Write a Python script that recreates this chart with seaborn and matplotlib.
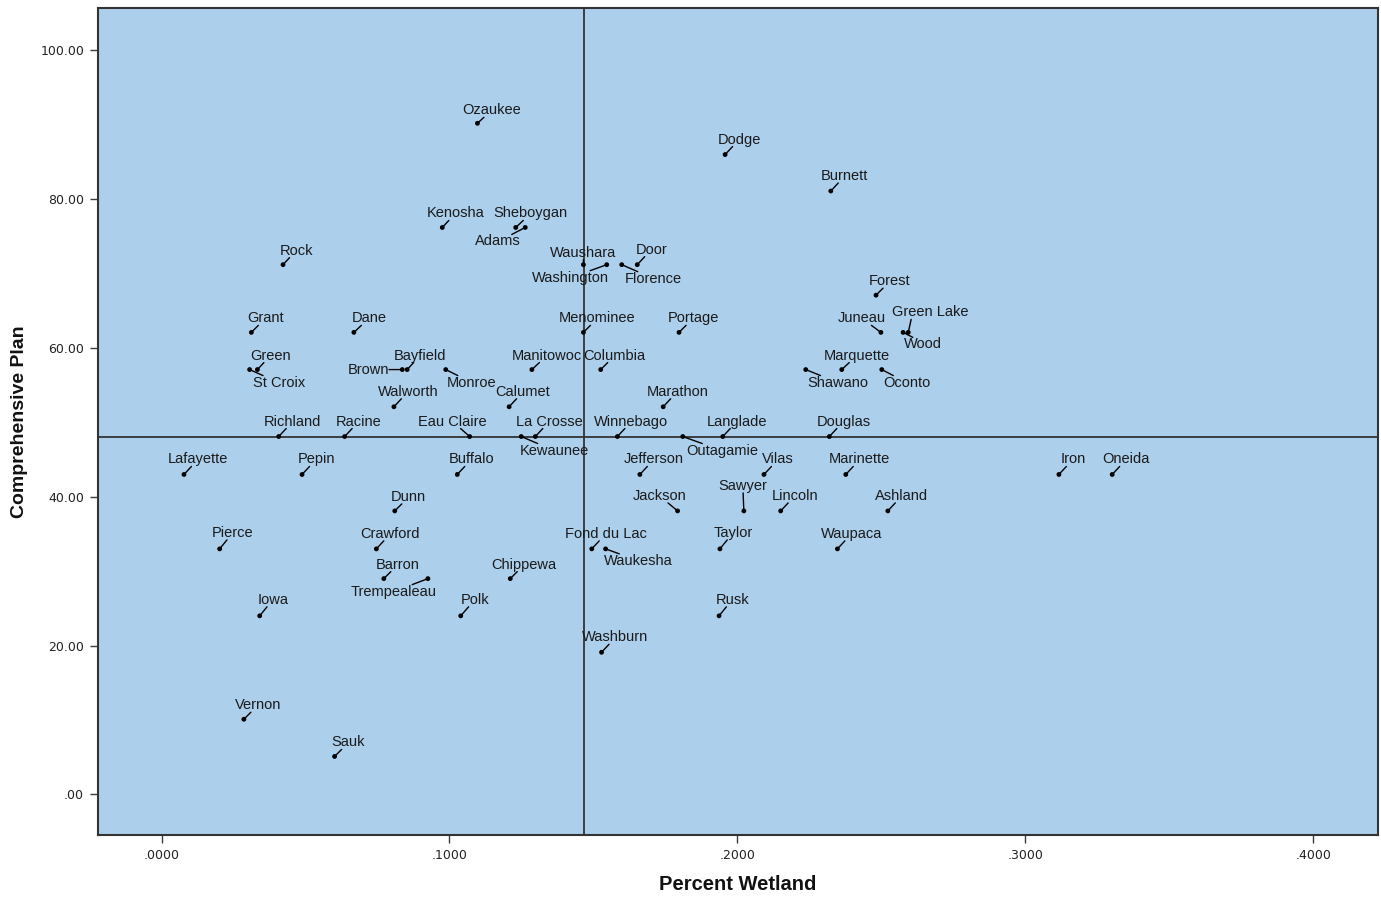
import matplotlib
matplotlib.use("Agg")
import matplotlib.pyplot as plt
import seaborn as sns
import pandas as pd
from matplotlib.ticker import FuncFormatter, FixedLocator

# ---------------- data ----------------
counties = [
    "Ozaukee", "Dodge", "Burnett", "Kenosha", "Sheboygan", "Adams", "Rock",
    "Waushara", "Washington", "Florence", "Door", "Forest",
    "Grant", "Dane", "Menominee", "Portage", "Juneau", "Green Lake", "Wood",
    "Green", "St Croix", "Brown", "Bayfield", "Monroe", "Manitowoc", "Columbia",
    "Shawano", "Marquette", "Oconto",
    "Walworth", "Calumet", "Marathon",
    "Richland", "Racine", "Eau Claire", "Kewaunee", "La Crosse", "Winnebago",
    "Outagamie", "Langlade", "Douglas",
    "Lafayette", "Pepin", "Buffalo", "Jefferson", "Vilas", "Marinette", "Iron", "Oneida",
    "Dunn", "Jackson", "Sawyer", "Lincoln", "Ashland",
    "Pierce", "Crawford", "Fond du Lac", "Waukesha", "Taylor", "Waupaca",
    "Barron", "Trempealeau", "Chippewa",
    "Iowa", "Polk", "Rusk",
    "Washburn", "Vernon", "Sauk",
]

percent_wetland = [
    0.1097, 0.1957, 0.2324, 0.0975, 0.1230, 0.1263, 0.0422,
    0.1465, 0.1546, 0.1598, 0.1652, 0.2481,
    0.0312, 0.0668, 0.1465, 0.1797, 0.2498, 0.2593, 0.2575,
    0.0333, 0.0306, 0.0836, 0.0853, 0.0987, 0.1286, 0.1525,
    0.2237, 0.2362, 0.2501,
    0.0807, 0.1207, 0.1742,
    0.0407, 0.0636, 0.1070, 0.1249, 0.1298, 0.1583,
    0.1810, 0.1949, 0.2319,
    0.0078, 0.0488, 0.1027, 0.1661, 0.2092, 0.2376, 0.3116, 0.3301,
    0.0810, 0.1792, 0.2022, 0.2150, 0.2522,
    0.0202, 0.0746, 0.1494, 0.1542, 0.1939, 0.2347,
    0.0772, 0.0925, 0.1211,
    0.0341, 0.1039, 0.1936,
    0.1528, 0.0286, 0.0601,
]

comprehensive_plan = [
    90.2, 86.0, 81.1, 76.2, 76.2, 76.2, 71.2,
    71.2, 71.2, 71.2, 71.2, 67.1,
    62.1, 62.1, 62.1, 62.1, 62.1, 62.1, 62.1,
    57.1, 57.1, 57.1, 57.1, 57.1, 57.1, 57.1,
    57.1, 57.1, 57.1,
    52.1, 52.1, 52.1,
    48.1, 48.1, 48.1, 48.1, 48.1, 48.1,
    48.1, 48.1, 48.1,
    43.0, 43.0, 43.0, 43.0, 43.0, 43.0, 43.0, 43.0,
    38.1, 38.1, 38.1, 38.1, 38.1,
    33.0, 33.0, 33.0, 33.0, 33.0, 33.0,
    29.0, 29.0, 29.0,
    24.0, 24.0, 24.0,
    19.1, 10.1, 5.1,
]

x_reference = 0.1466
y_reference = 48.1

x_ticks = [0.0, 0.1, 0.2, 0.3, 0.4]
y_ticks = [0, 20, 40, 60, 80, 100]

# ---------------- layout (label offsets in pixels) ----------------
default_offset = (14, 15)
label_offsets = {
    "Ozaukee": (14, 13), "Kenosha": (13, 14), "Sheboygan": (15, 14),
    "Adams": (-27, -14), "Rock": (13, 14), "Waushara": (0, 12),
    "Washington": (-36, -13), "Florence": (32, -14), "Forest": (14, 14),
    "Grant": (14, 14), "Dane": (15, 14), "Menominee": (14, 14),
    "Portage": (14, 14), "Juneau": (-19, 14), "Green Lake": (22, 20),
    "Wood": (20, -12), "Green": (13, 14), "St Croix": (29, -13),
    "Brown": (-34, 0), "Bayfield": (13, 14), "Monroe": (26, -13),
    "Manitowoc": (15, 14), "Columbia": (14, 14), "Shawano": (32, -13),
    "Marquette": (15, 14), "Oconto": (25, -13), "Eau Claire": (-17, 15),
    "Kewaunee": (33, -14), "Outagamie": (39, -14), "Jackson": (-18, 15),
    "Sawyer": (-1, 25), "Waukesha": (33, -12), "Trempealeau": (-34, -13),
    "Dunn": (14, 14), "Barron": (14, 14), "Chippewa": (14, 14),
    "Vernon": (14, 14), "Sauk": (14, 14), "Pierce": (13, 16),
    "Taylor": (13, 16), "Iowa": (13, 16), "Polk": (14, 16), "Rusk": (13, 16),
}
# where the leader line leaves the label box (fractions of the box)
leader_start = {"Green Lake": (0.25, 0.0), "Wood": (0.23, 1.0)}

df = pd.DataFrame({"County": counties, "Wetland": percent_wetland,
                   "Plan": comprehensive_plan})

W, H = 1381, 897
fig = plt.figure(figsize=(W / 100, H / 100), dpi=100)
ax = fig.add_axes([98 / W, 1 - 835 / H, (1378 - 98) / W, (835 - 8) / H])
ax.set_facecolor("#accfec")

sns.scatterplot(data=df, x="Wetland", y="Plan", ax=ax, color="black",
                s=12, edgecolor="none", zorder=4, legend=False)

ax.axvline(x_reference, color="#333333", lw=1.3, zorder=2)
ax.axhline(y_reference, color="#333333", lw=1.3, zorder=2)

label_font = ["Liberation Sans", "DejaVu Sans"]
for name, xv, yv in zip(counties, percent_wetland, comprehensive_plan):
    dx, dy = label_offsets.get(name, default_offset)
    arrow = dict(arrowstyle="-", color="black", lw=1.0, shrinkA=0, shrinkB=0)
    if name in leader_start:
        arrow["relpos"] = leader_start[name]
    ax.annotate(name, xy=(xv, yv), xytext=(dx, dy), textcoords="offset pixels",
                ha="center", va="center", fontsize=10.5, family=label_font,
                color="#1a1a1a", zorder=5,
                bbox=dict(boxstyle="square,pad=0", fc="none", ec="none"),
                arrowprops=arrow)

ax.set_xlim(-0.02205, 0.4224)
ax.set_ylim(-5.46, 105.7)
ax.xaxis.set_major_locator(FixedLocator(x_ticks))
ax.yaxis.set_major_locator(FixedLocator(y_ticks))


def strip_zero(fmt):
    def f(v, pos):
        s = fmt.format(v)
        return s[1:] if s.startswith("0") else s
    return f


ax.xaxis.set_major_formatter(FuncFormatter(strip_zero("{:.4f}")))
ax.yaxis.set_major_formatter(FuncFormatter(strip_zero("{:.2f}")))
ax.tick_params(direction="out", length=6, width=1, color="#3c3c3c",
               labelsize=9, labelcolor="#222222", pad=4)
for lab in ax.get_xticklabels() + ax.get_yticklabels():
    lab.set_family("DejaVu Sans")

for sp in ax.spines.values():
    sp.set_color("#333333")
    sp.set_linewidth(1.5)

ax.set_xlabel("Percent Wetland", fontsize=14.5, fontweight="bold",
              family=["Liberation Sans", "DejaVu Sans"], color="#111111")
ax.set_ylabel("Comprehensive Plan", fontsize=14, fontweight="bold",
              family=["Liberation Sans", "DejaVu Sans"], color="#111111")
ax.xaxis.set_label_coords(0.5, -0.048)
ax.yaxis.set_label_coords(-0.055, 0.5)

fig.savefig("out.png", dpi=100)
